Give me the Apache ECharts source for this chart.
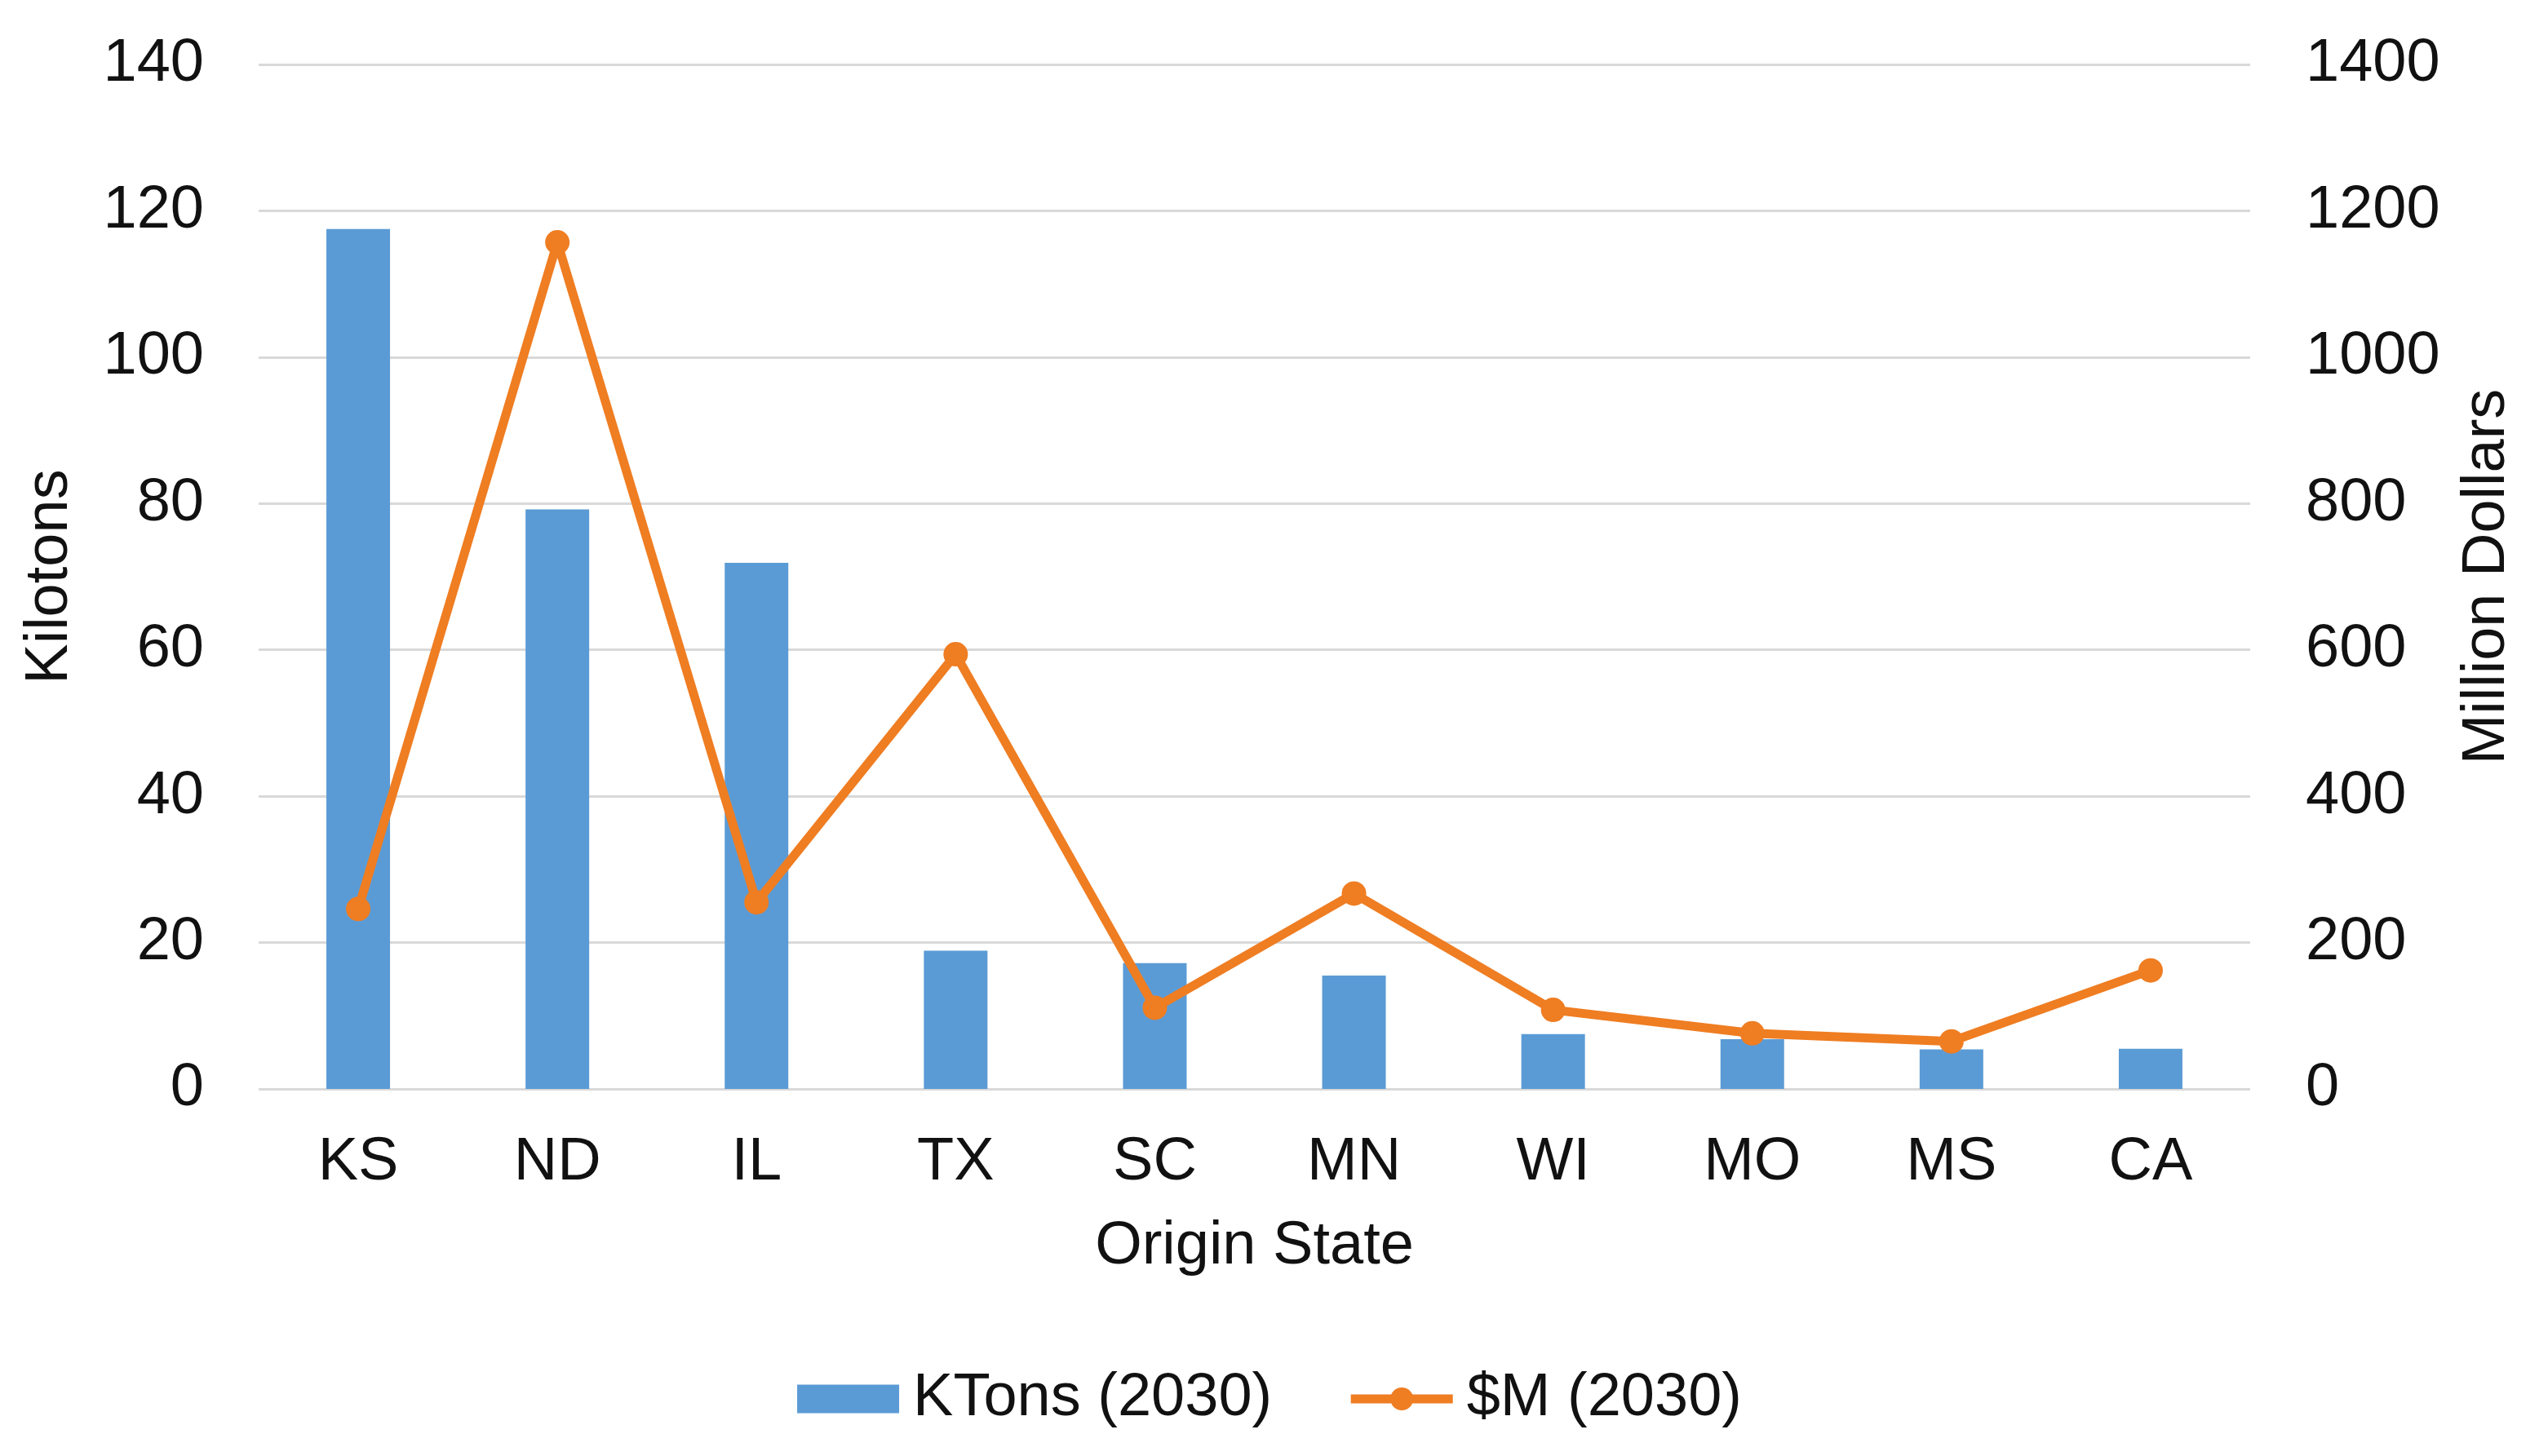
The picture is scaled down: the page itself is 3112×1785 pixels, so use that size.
<!DOCTYPE html>
<html>
<head>
<meta charset="utf-8">
<script src="https://cdn.jsdelivr.net/npm/echarts@6/dist/echarts.min.js"></script>
<style>
html,body{margin:0;padding:0;background:#fff;}
#chart{width:3112px;height:1785px;}
</style>
</head>
<body>
<div id="chart"></div>
<script>
const categories = ['KS', 'ND', 'IL', 'TX', 'SC', 'MN', 'WI', 'MO', 'MS', 'CA'];
const ktons2030 = [117.5, 79.2, 71.9, 18.9, 17.2, 15.5, 7.5, 6.8, 5.4, 5.5];
const musd2030 = [246, 1157, 255, 594, 111, 267, 108, 76, 65, 162];
const leftTicks = { min: 0, max: 140, interval: 20 };
const rightTicks = { min: 0, max: 1400, interval: 200 };

const FONT = '"Liberation Sans", Arial, sans-serif';
const TXT = '#111111';
const ORANGE = '#ef7d22';
const chart = echarts.init(document.getElementById('chart'), null, { renderer: 'canvas' });
chart.setOption({
  backgroundColor: '#ffffff',
  animation: false,
  textStyle: { fontFamily: FONT, color: TXT },
  grid: { left: 317, right: 354, top: 79, bottom: 450, containLabel: false },
  legend: {
    top: 1673,
    left: 'center',
    itemWidth: 125,
    itemHeight: 35,
    itemGap: 91,
    textStyle: { fontFamily: FONT, fontSize: 74, color: TXT, lineHeight: 74, padding: [0, 0, 0, 12] },
    data: [
      { name: 'KTons (2030)', icon: 'rect' },
      { name: '$M (2030)', lineStyle: { width: 11, color: ORANGE }, itemStyle: { color: ORANGE } }
    ]
  },
  xAxis: {
    type: 'category',
    data: categories,
    axisLine: { show: false },
    axisTick: { show: false },
    axisLabel: { fontFamily: FONT, fontSize: 74, color: TXT, lineHeight: 74, margin: 54 },
    name: 'Origin State',
    nameLocation: 'middle',
    nameGap: 157,
    nameTextStyle: { fontFamily: FONT, fontSize: 74, color: TXT, lineHeight: 74 }
  },
  yAxis: [
    {
      type: 'value',
      min: leftTicks.min, max: leftTicks.max, interval: leftTicks.interval,
      axisLine: { show: false },
      axisTick: { show: false },
      splitLine: { lineStyle: { color: '#d9d9d9', width: 3 } },
      axisLabel: { fontFamily: FONT, fontSize: 74, color: TXT, margin: 67 },
      name: 'Kilotons',
      nameLocation: 'middle',
      nameRotate: 90,
      nameGap: 218,
      nameTextStyle: { fontFamily: FONT, fontSize: 74, color: TXT, lineHeight: 74 }
    },
    {
      type: 'value',
      position: 'right',
      min: rightTicks.min, max: rightTicks.max, interval: rightTicks.interval,
      axisLine: { show: false },
      axisTick: { show: false },
      splitLine: { show: false },
      axisLabel: { fontFamily: FONT, fontSize: 74, color: TXT, margin: 68, align: 'left', formatter: function (v) { return String(v); } },
      name: 'Million Dollars',
      nameLocation: 'middle',
      nameRotate: 90,
      nameGap: 254,
      nameTextStyle: { fontFamily: FONT, fontSize: 74, color: TXT, lineHeight: 74 }
    }
  ],
  series: [
    {
      name: 'KTons (2030)',
      type: 'bar',
      yAxisIndex: 0,
      data: ktons2030,
      barWidth: 78,
      itemStyle: { color: '#5b9bd5' },
      z: 2
    },
    {
      name: '$M (2030)',
      type: 'line',
      yAxisIndex: 1,
      data: musd2030,
      symbol: 'circle',
      symbolSize: 30,
      lineStyle: { color: ORANGE, width: 11 },
      itemStyle: { color: ORANGE },
      z: 3
    }
  ]
});
</script>
</body>
</html>
